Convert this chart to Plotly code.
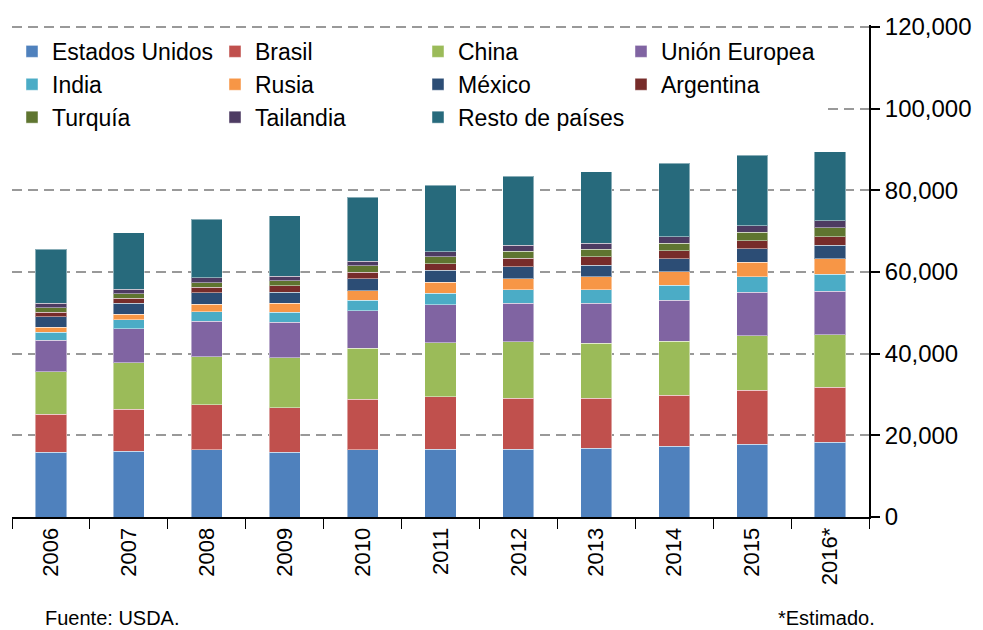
import plotly.graph_objects as go

years = ["2006", "2007", "2008", "2009", "2010", "2011", "2012", "2013", "2014", "2015", "2016*"]

estados_unidos = [15.8, 16.1, 16.5, 15.8, 16.5, 16.6, 16.6, 16.9, 17.3, 17.8, 18.3]
brasil = [9.4, 10.3, 11.0, 11.0, 12.3, 12.8, 12.5, 12.2, 12.5, 13.2, 13.5]
china = [10.4, 11.4, 11.8, 12.2, 12.5, 13.3, 13.8, 13.4, 13.2, 13.4, 12.8]
union_europea = [7.7, 8.3, 8.7, 8.7, 9.2, 9.3, 9.5, 9.9, 10.1, 10.7, 10.7]
india = [2.0, 2.2, 2.3, 2.5, 2.6, 2.8, 3.2, 3.3, 3.7, 3.8, 4.2]
rusia = [1.2, 1.4, 1.8, 2.1, 2.3, 2.7, 2.8, 3.2, 3.3, 3.5, 3.7]
mexico = [2.5, 2.7, 2.8, 2.8, 2.9, 2.9, 2.9, 2.8, 3.1, 3.3, 3.3]
argentina = [1.2, 1.2, 1.4, 1.5, 1.7, 1.6, 2.1, 2.1, 2.0, 2.0, 2.2]
turquia = [1.1, 1.1, 1.1, 1.3, 1.5, 1.8, 1.7, 1.8, 1.9, 2.0, 2.2]
tailandia = [1.0, 1.1, 1.2, 1.1, 1.2, 1.2, 1.5, 1.5, 1.5, 1.6, 1.6]
resto = [13.3, 13.8, 14.3, 14.8, 15.6, 16.2, 16.8, 17.4, 18.0, 17.3, 17.0]

series_names = ["Estados Unidos", "Brasil", "China", "Unión Europea", "India", "Rusia",
                "México", "Argentina", "Turquía", "Tailandia", "Resto de países"]
series_values = [estados_unidos, brasil, china, union_europea, india, rusia,
                 mexico, argentina, turquia, tailandia, resto]
colors = ["#4F81BD", "#C0504D", "#9BBB59", "#8064A2", "#4BACC6", "#F79646",
          "#2C4D75", "#772C2A", "#5F7530", "#4D3B62", "#276A7C"]

FONT = "Liberation Sans"

fig = go.Figure()
for name, vals, col in zip(series_names, series_values, colors):
    fig.add_trace(go.Bar(
        x=years, y=[v * 1000 for v in vals], name=name,
        marker=dict(color=col, line=dict(color="rgba(255,255,255,0.45)", width=1)),
    ))

fig.update_layout(
    barmode="stack",
    bargap=0.6,
    width=983, height=630,
    margin=dict(l=12, r=114, t=25, b=113),
    paper_bgcolor="white", plot_bgcolor="white",
    font=dict(family=FONT, size=22, color="black"),
    showlegend=True,
    legend=dict(
        orientation="h", traceorder="normal",
        x=0.0, y=0.99, xanchor="left", yanchor="top",
        bgcolor="white", borderwidth=0,
        entrywidth=158, entrywidthmode="pixels",
        font=dict(family=FONT, size=23, color="black"),
    ),
    xaxis=dict(
        showline=True, linecolor="black", linewidth=2,
        ticks="outside", tickson="boundaries", ticklen=10, tickcolor="black", tickwidth=1,
        tickangle=-90, showgrid=False,
        tickfont=dict(family=FONT, size=22, color="black"),
    ),
    yaxis=dict(
        side="right", range=[0, 120500], tick0=0, dtick=20000, tickformat=",",
        showline=True, linecolor="black", linewidth=2,
        ticks="outside", ticklen=9, tickcolor="black", tickwidth=2,
        showgrid=True, gridcolor="#999999", gridwidth=2, griddash="10px,6px",
        zeroline=False,
        tickfont=dict(family=FONT, size=24, color="black"),
    ),
    annotations=[
        dict(text="Fuente: USDA.", xref="paper", yref="paper", x=0.036, y=-0.205,
             xanchor="left", yanchor="middle", showarrow=False,
             font=dict(family=FONT, size=20, color="black")),
        dict(text="*Estimado.", xref="paper", yref="paper", x=1.009, y=-0.205,
             xanchor="right", yanchor="middle", showarrow=False,
             font=dict(family=FONT, size=20, color="black")),
    ],
)

fig.write_html(
    "out.html",
    config={"displayModeBar": False},
    post_script="document.body.style.margin='0';document.body.style.overflow='hidden';",
)
